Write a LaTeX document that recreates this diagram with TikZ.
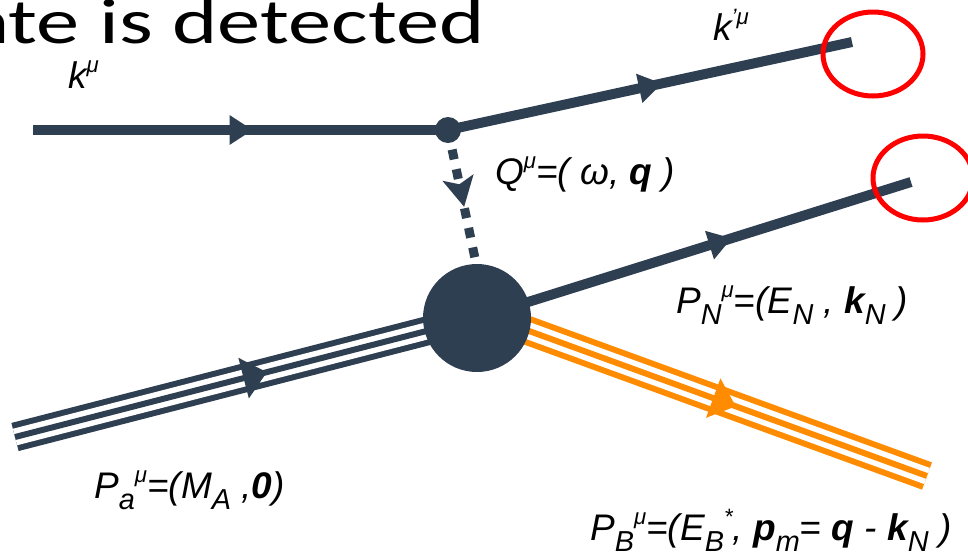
\documentclass[tikz,border=0pt]{standalone}
\usepackage{fontspec}
\usepackage{graphicx}
\usepackage{tikz}
\usetikzlibrary{decorations.markings, shapes.geometric}
\newfontfamily\titlefont{Carlito}
\newfontfamily\labelfont{Liberation Sans}
\definecolor{linecol}{RGB}{47, 63, 82}
\definecolor{nuclcol}{RGB}{255, 140, 0}
\definecolor{ringcol}{RGB}{255, 0, 0}
\newcommand{\lowidx}[1]{\raisebox{-0.3em}{\scalebox{0.78}{#1}}}
\newcommand{\upidx}[1]{\raisebox{0.42em}{\scalebox{0.6}{#1}}}

\begin{document}
\begin{tikzpicture}[x=1pt, y=-1pt,
		fermion/.style={draw=linecol, line width=10pt},
		fwd/.style={postaction={decorate, decoration={markings, mark=at position #1 with {\fill[linecol] (12pt,0pt) -- (-11pt,15pt) -- (-11pt,-15pt) -- cycle;}}}},
		triple/.style n args={2}{line width=29pt, draw=#1,
			postaction={draw=white, line width=17pt},
			postaction={draw=#1, line width=6pt},
			postaction={decorate, decoration={markings, mark=at position #2 with {\fill[#1] (12pt,0pt) -- (-12pt,21pt) -- (-12pt,-21pt) -- cycle;}}}},
		photon/.style={draw=linecol, line width=9pt, dash pattern=on 10pt off 10pt,
			postaction={decorate, decoration={markings, mark=at position #1 with {\fill[linecol] (15pt,0pt) -- (-15pt,16pt) -- (-8pt,0pt) -- (-15pt,-16pt) -- cycle;}}}},
		vtx/.style={circle, fill=linecol, inner sep=0, minimum size=26pt},
		blob/.style={circle, fill=linecol, inner sep=0, minimum size=108pt},
		detring/.style={ellipse, draw=ringcol, line width=5pt, inner sep=0, minimum width=100pt, minimum height=84pt},
		lbl/.style={anchor=base west, inner sep=0, font=\labelfont\itshape\fontsize{37}{42}\selectfont}]
		\useasboundingbox (0,0) rectangle (968,558);

		\node[anchor=base west, inner sep=0, font=\titlefont\fontsize{64}{70}\selectfont] (title) at (-32,43) {\scalebox{1.35}[1]{ate is detected}};

		\coordinate (kin) at (33,130);
		\coordinate (kout) at (852,42);
		\coordinate (pn) at (911,182);
		\coordinate (pa) at (15,437);
		\coordinate (pb) at (927,476);
		\coordinate (v) at (448,130);
		\coordinate (b) at (477,318);
		\coordinate (bo) at (477,312);
		\coordinate (btop) at (477,268);

		% lines
		\draw[triple={linecol}{0.52}] (pa) -- (b);
		\draw[triple={nuclcol}{0.55}] (bo) -- (pb);
		\draw[fermion, fwd=0.5] (kin) -- (v);
		\draw[fermion, fwd=0.5] (v) -- (kout);
		\draw[fermion, fwd=0.56] (b) -- (pn);
		\draw[photon=0.45] (v) -- (btop);

		\node[vtx] (vdot) at (v) {};
		\node[blob] (bdot) at (b) {};

		% detected particles
		\node[detring] (ring1) at (873,54) {};
		\node[detring] (ring2) at (923,178) {};

		% labels
		\node[lbl] (lk) at (68,88) {k\upidx{μ}};
		\node[lbl] (lkp) at (713,40) {k\upidx{’μ}};
		\node[lbl] (lq) at (495,184) {Q\upidx{μ}=( ω, \textbf{q} )};
		\node[lbl] (lpn) at (676,313) {P\lowidx{N}\upidx{μ}=(E\lowidx{N} , \textbf{k}\lowidx{N} )};
		\node[lbl] (lpa) at (94,498) {P\lowidx{a}\upidx{μ}=(M\lowidx{A} ,\textbf{0})};
		\node[lbl] (lpb) at (590,540) {P\lowidx{B}\upidx{μ}=(E\lowidx{B}\upidx{*}, \textbf{p}\lowidx{m}= \textbf{q} - \textbf{k}\lowidx{N} )};
	\end{tikzpicture}
\end{document}
